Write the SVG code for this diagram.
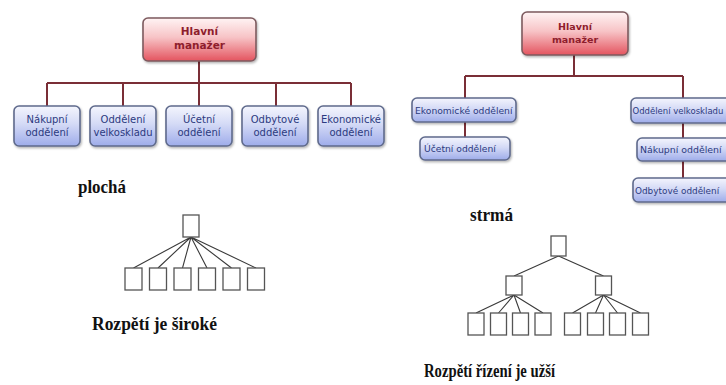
<svg xmlns="http://www.w3.org/2000/svg" width="726" height="385" viewBox="0 0 726 385">
  <defs>
    <linearGradient id="gBlue" x1="0" y1="0" x2="0" y2="1">
      <stop offset="0" stop-color="#f4f5fd"/>
      <stop offset="0.45" stop-color="#d4daf6"/>
      <stop offset="1" stop-color="#9eacea"/>
    </linearGradient>
    <linearGradient id="gRed" x1="0" y1="0" x2="0" y2="1">
      <stop offset="0" stop-color="#fff4f4"/>
      <stop offset="0.45" stop-color="#f7c3c6"/>
      <stop offset="1" stop-color="#e4545f"/>
    </linearGradient>
    <filter id="shadow" x="-10%" y="-15%" width="125%" height="140%">
      <feDropShadow dx="1" dy="1.5" stdDeviation="1" flood-color="#000" flood-opacity="0.3"/>
    </filter>
  </defs>
  <style>
    .dept { fill: url(#gBlue); stroke: #5f6a8c; stroke-width: 1.6; filter: url(#shadow); }
    .boss { fill: url(#gRed); stroke: #7d5a5e; stroke-width: 1.6; filter: url(#shadow); }
    .link { fill: none; stroke: #7a2e36; stroke-width: 2; }
    .dtxt { font-family: "DejaVu Sans", sans-serif; font-size: 10px; fill: #2c3a80; text-anchor: middle; }
    .dtxt1 { font-family: "DejaVu Sans", sans-serif; font-size: 9.2px; fill: #2c3a80; }
    .btxt { font-family: "DejaVu Sans", sans-serif; font-weight: bold; font-size: 10.5px; fill: #8e1d2c; text-anchor: middle; }
    .cap { font-family: "Liberation Serif", serif; font-weight: bold; font-size: 19px; fill: #111; }
    .sq { fill: #fff; stroke: #555; stroke-width: 1.3; }
    .thin { fill: none; stroke: #3a3a3a; stroke-width: 1.1; }
  </style>

  <rect width="726" height="385" fill="#fff"/>

  <!-- flat structure: connectors -->
  <g id="flat-connectors">
    <path class="link" d="M199 61V83M47 83H351M47 83V106M123 83V106M199 83V106M276 83V106M351 83V106"/>
  </g>

  <g id="flat-boss">
    <rect class="boss" x="143" y="18" width="113" height="43" rx="5"/>
    <text class="btxt" x="199.5" y="35">Hlavní</text>
    <text class="btxt" x="199.5" y="49">manažer</text>
  </g>
  <g id="flat-nakup">
    <rect class="dept" x="14" y="106" width="66" height="40" rx="5"/>
    <text class="dtxt" x="47" y="123">Nákupní</text>
    <text class="dtxt" x="47" y="136">oddělení</text>
  </g>
  <g id="flat-sklad">
    <rect class="dept" x="90" y="106" width="66" height="40" rx="5"/>
    <text class="dtxt" x="123" y="123">Oddělení</text>
    <text class="dtxt" x="123" y="136">velkoskladu</text>
  </g>
  <g id="flat-ucetni">
    <rect class="dept" x="166" y="106" width="66" height="40" rx="5"/>
    <text class="dtxt" x="199" y="123">Účetní</text>
    <text class="dtxt" x="199" y="136">oddělení</text>
  </g>
  <g id="flat-odbyt">
    <rect class="dept" x="242" y="106" width="66" height="40" rx="5"/>
    <text class="dtxt" x="275" y="123">Odbytové</text>
    <text class="dtxt" x="275" y="136">oddělení</text>
  </g>
  <g id="flat-ekonom">
    <rect class="dept" x="318" y="106" width="66" height="40" rx="5"/>
    <text class="dtxt" x="351" y="123">Ekonomické</text>
    <text class="dtxt" x="351" y="136">oddělení</text>
  </g>

  <!-- tall structure: connectors -->
  <g id="tall-connectors">
    <path class="link" d="M574 55V76M465 76H683M465 76V98M465 122V137M683 76V98M683 123V138M683 161V178"/>
  </g>

  <g id="tall-boss">
    <rect class="boss" x="522" y="12" width="106" height="43" rx="5"/>
    <text class="btxt" x="575" y="30" style="font-size:9.5px">Hlavní</text>
    <text class="btxt" x="575" y="42.5" style="font-size:9.5px">manažer</text>
  </g>
  <g id="tall-ekonom">
    <rect class="dept" x="412" y="98" width="104" height="24" rx="5"/>
    <text class="dtxt1" x="415" y="113.5">Ekonomické oddělení</text>
  </g>
  <g id="tall-ucetni">
    <rect class="dept" x="420" y="137" width="90" height="23" rx="5"/>
    <text class="dtxt1" x="424" y="152">Účetní oddělení</text>
  </g>
  <g id="tall-sklad">
    <rect class="dept" x="631" y="98" width="110" height="25" rx="5"/>
    <text class="dtxt1" x="632.5" y="114" style="font-size:8.5px">Oddělení velkoskladu</text>
  </g>
  <g id="tall-nakup">
    <rect class="dept" x="637" y="138" width="104" height="23" rx="5"/>
    <text class="dtxt1" x="640" y="153" style="font-size:9.4px">Nákupní oddělení</text>
  </g>
  <g id="tall-odbyt">
    <rect class="dept" x="633" y="178" width="108" height="24" rx="5"/>
    <text class="dtxt1" x="635" y="193.5" style="font-size:8.9px">Odbytové oddělení</text>
  </g>

  <!-- captions -->
  <text class="cap" x="78" y="193" textLength="48" lengthAdjust="spacingAndGlyphs">plochá</text>
  <text class="cap" x="92" y="330" textLength="125" lengthAdjust="spacingAndGlyphs">Rozpětí je široké</text>
  <text class="cap" x="470" y="221" textLength="43" lengthAdjust="spacingAndGlyphs">strmá</text>
  <text class="cap" x="424" y="377" textLength="131" lengthAdjust="spacingAndGlyphs">Rozpětí řízení je užší</text>

  <!-- flat sketch: one superior, six subordinates -->
  <g id="flat-sketch">
    <path class="thin" d="M191 237L133.5 268M191 237L158 268M191 237L182.5 268M191 237L207 268M191 237L231.5 268M191 237L256 268"/>
    <rect class="sq" x="183" y="215" width="16" height="22"/>
    <rect class="sq" x="125" y="268" width="17" height="22"/>
    <rect class="sq" x="149.5" y="268" width="17" height="22"/>
    <rect class="sq" x="174" y="268" width="17" height="22"/>
    <rect class="sq" x="198.5" y="268" width="17" height="22"/>
    <rect class="sq" x="223" y="268" width="17" height="22"/>
    <rect class="sq" x="247.5" y="268" width="17" height="22"/>
  </g>

  <!-- tall sketch: two levels below the top -->
  <g id="tall-sketch">
    <path class="thin" d="M558.5 256L514 276M558.5 256L603.5 276M514 295L476 313M514 295L498.5 313M514 295L520.5 313M514 295L543 313M603.5 295L572.5 313M603.5 295L595.5 313M603.5 295L617.5 313M603.5 295L640.5 313"/>
    <rect class="sq" x="551" y="236" width="15" height="20"/>
    <rect class="sq" x="506" y="276" width="16" height="19"/>
    <rect class="sq" x="595.5" y="276" width="16" height="19"/>
    <rect class="sq" x="468" y="313" width="16" height="22"/>
    <rect class="sq" x="490.5" y="313" width="16" height="22"/>
    <rect class="sq" x="512.5" y="313" width="16" height="22"/>
    <rect class="sq" x="535" y="313" width="16" height="22"/>
    <rect class="sq" x="564.5" y="313" width="16" height="22"/>
    <rect class="sq" x="587.5" y="313" width="16" height="22"/>
    <rect class="sq" x="609.5" y="313" width="16" height="22"/>
    <rect class="sq" x="632.5" y="313" width="16" height="22"/>
  </g>
</svg>
